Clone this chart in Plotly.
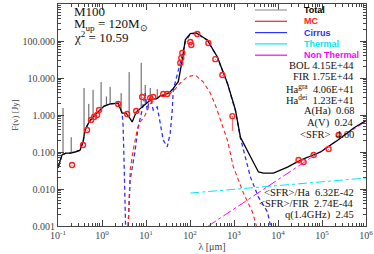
import numpy as np
import plotly.graph_objects as go

# ---- data (log10 wavelength [um], log10 flux [Jy]) ----
total_loglam = [-1.000, -0.909, -0.818, -0.727, -0.613, -0.499, -0.431, -0.385, -0.317, -0.226,
                -0.134, -0.043, 0.048, 0.185, 0.367, 0.458, 0.549, 0.640, 0.686, 0.777, 0.891,
                0.982, 1.096, 1.255, 1.323, 1.483, 1.551, 1.620, 1.733, 1.825, 1.893, 2.007,
                2.144, 2.394, 2.622, 2.850, 3.032, 3.146, 3.374, 3.556, 3.670, 3.897, 4.216,
                4.513, 4.968, 5.355, 5.720, 6.016]
total_logF = [-1.43, -1.08, -1.03, -1.03, -1.00, -0.95, -0.73, -0.41, -0.24, -0.08,
              0.03, 0.135, 0.24, 0.30, 0.32, 0.05, 0.05, -0.10, -0.19, 0.08, 0.19,
              0.30, 0.40, 0.45, 0.52, 0.58, 0.63, 0.72, 0.90, 1.49, 2.03, 2.20,
              2.22, 2.03, 1.57, 0.86, 0.14, -0.60, -1.14, -1.54, -1.57, -1.57, -1.41,
              -1.22, -1.00, -0.68, -0.35, -0.14]

spike_loglam = [-0.886, -0.70, -0.408, -0.30, -0.203, -0.021, 0.10, 0.185, 0.435, 0.617,
                0.891, 0.982, 1.096, 1.255]
spike_logF = [0.19, -0.60, 0.73, 0.30, 0.68, 0.89, 0.50, 0.76, 0.59, 1.16,
              1.41, 0.81, 0.73, 0.70]

cirrus_loglam = [-1.000, -0.909, -0.818, -0.727, -0.613, -0.499, -0.431, -0.385, -0.317, -0.226,
                 -0.134, -0.043, 0.048, 0.185, 0.367, 0.458, 0.48, 0.50, 0.52, 0.54, None,
                 0.595, 0.640, 0.754, 0.822, 0.913, 0.982, 1.027, 1.096, 1.164, 1.255, 1.323,
                 1.392, 1.483, 1.551, 1.597, 1.620, 1.779, 1.893, 2.007, 2.144, 2.394, 2.622,
                 2.850, 3.032, 3.146, 3.374, 3.556, 3.761, 3.829]
cirrus_logF = [-1.43, -1.08, -1.03, -1.03, -1.00, -0.95, -0.73, -0.41, -0.24, -0.08,
               0.03, 0.135, 0.24, 0.30, 0.32, 0.05, -0.30, -1.20, -2.20, -3.20, None,
               -3.00, -1.76, -0.95, -0.32, 0.135, 0.59, 0.135, 0.49, 0.135, 0.22, -0.22,
               -0.68, -0.86, -0.49, 0.135, 0.68, 1.41, 1.97, 2.19, 2.21, 2.02, 1.56,
               0.85, 0.12, -0.62, -1.68, -2.22, -2.62, -3.00]

mc_loglam = [0.595, 0.640, 0.708, 0.800, 0.868, 0.982, 1.096, 1.210, 1.323, 1.437, 1.551,
             1.665, 1.779, 1.939, 2.121, 2.303, 2.462, 2.576, 2.690, 2.850, 2.986, 3.214,
             3.419, 3.510]
mc_logF = [-3.00, -1.49, -0.95, -0.405, -0.19, 0.00, 0.30, 0.42, 0.50, 0.55, 0.58,
           0.70, 0.865, 1.03, 1.08, 0.89, 0.59, 0.27, -0.135, -0.68, -1.405, -2.11,
           -2.62, -3.00]

thermal_loglam = [2.007, 3.0, 4.0, 5.0, 6.039]
thermal_logF = [-2.11, -2.01, -1.91, -1.81, -1.70]

nonthermal_loglam = [2.417, 3.0, 4.0, 5.0, 6.039]
nonthermal_logF = [-3.00, -2.54, -1.75, -0.96, -0.135]

obs_loglam = [-0.681, -0.431, -0.339, -0.248, -0.180, -0.112, -0.066, 0.367, 0.572, 0.777,
              0.913, 1.096, 1.164, 1.392, 1.483, 1.779, 1.802, 1.825, 2.007, 2.030, 2.166,
              2.417, 2.576, 2.736, 2.964, 4.467, 4.581, 4.809, 5.150, 5.378]
obs_logF = [-1.351, -0.811, -0.405, -0.135, -0.054, 0.0, 0.135, 0.297, 0.027, 0.108,
            0.486, 0.459, 0.486, 0.568, 0.568, 1.405, 1.54, 1.676, 1.973, 1.89, 2.19,
            1.946, 1.51, 1.08, -0.03, -1.216, -1.27, -1.08, -0.919, -0.541]
obs_err_frac = [0.05] * 24 + [0.6] + [0.08] * 5

xtick_exp = [-1, 0, 1, 2, 3, 4, 5, 6]
ytick_vals = [0.001, 0.01, 0.1, 1, 10, 100, 1000]

legend_names = ["Total", "MC", "Cirrus", "Thermal", "Non Thermal"]
legend_colors = ["#999999", "#ff2020", "#3030ff", "#00e8ee", "#ff00ff"]
legend_text_colors = ["#000000", "#ff2020", "#3030ff", "#00e8ee", "#ff00ff"]

stats_top = ["BOL 4.15E+44", "FIR 1.75E+44", "Ha<sup>gra</sup>  4.06E+41",
             "Ha<sup>dei</sup>  1.23E+41", "A(Ha)  0.68", "A(V)  0.24", "&lt;SFR&gt;  4.60"]
stats_bottom = ["&lt;SFR&gt;/Ha  6.32E-42", "&lt;SFR&gt;/FIR  2.74E-44", "q(1.4GHz)  2.45"]
title_lines = ["M100", "M<sub>up</sub> = 120M<sub>⊙</sub>", "χ<sup>2</sup> = 10.59"]


def p10(arr):
    return [None if v is None else 10 ** v for v in arr]


fig = go.Figure()
fig.add_trace(go.Scatter(x=p10(cirrus_loglam), y=p10(cirrus_logF), mode="lines",
                         line=dict(color="#3030ff", width=1.3, dash="4px,3px"), connectgaps=False))
fig.add_trace(go.Scatter(x=p10(mc_loglam), y=p10(mc_logF), mode="lines",
                         line=dict(color="#ff2020", width=1.1, dash="4px,3px")))
fig.add_trace(go.Scatter(x=p10(thermal_loglam), y=p10(thermal_logF), mode="lines",
                         line=dict(color="#00e8ee", width=1, dash="dashdot")))
fig.add_trace(go.Scatter(x=p10(nonthermal_loglam), y=p10(nonthermal_logF), mode="lines",
                         line=dict(color="#ff00ff", width=1, dash="dashdot")))
fig.add_trace(go.Scatter(x=p10(total_loglam), y=p10(total_logF), mode="lines",
                         line=dict(color="#000000", width=1.3)))

# emission-line spikes drawn from the continuum up to their peaks
base = np.interp(spike_loglam, total_loglam, total_logF)
sx, sy = [], []
for lx, b, top in zip(spike_loglam, base, spike_logF):
    sx += [10 ** lx, 10 ** lx, None]
    sy += [10 ** b, 10 ** top, None]
fig.add_trace(go.Scatter(x=sx, y=sy, mode="lines", line=dict(color="#444444", width=0.9)))

obs_F = [10 ** v for v in obs_logF]
fig.add_trace(go.Scatter(
    x=p10(obs_loglam), y=obs_F, mode="markers",
    marker=dict(symbol="circle-open", size=5, color="#ff2020", line=dict(width=1.4)),
    error_y=dict(type="data", array=[0.0] * len(obs_F),
                 arrayminus=[f * F for f, F in zip(obs_err_frac, obs_F)],
                 color="#ff6060", thickness=1, width=0)))

font_serif = "Liberation Serif"
fig.update_layout(
    width=374, height=254, margin=dict(l=58, r=8, t=4, b=28),
    paper_bgcolor="white", plot_bgcolor="white", showlegend=False,
    font=dict(family=font_serif, size=10, color="#222"),
)
fig.update_xaxes(type="log", range=[-1, 6], showgrid=False, zeroline=False, automargin=False,
                 showline=True, linecolor="#444", linewidth=1.2, mirror="allticks",
                 ticks="inside", ticklen=6, tickcolor="#444",
                 tickvals=[10 ** e for e in xtick_exp],
                 ticktext=[f"10<sup>{e}</sup>" for e in xtick_exp],
                 tickfont=dict(size=10, color="#444"),
                 minor=dict(ticks="inside", ticklen=3, dtick="D1", tickcolor="#444"),
                 title=dict(text="λ [μm]", font=dict(size=10, color="#444"), standoff=2))
fig.update_yaxes(type="log", range=[-3, 3], showgrid=False, zeroline=False, automargin=False,
                 showline=True, linecolor="#444", linewidth=1.2, mirror="allticks",
                 ticks="inside", ticklen=6, tickcolor="#444",
                 tickvals=ytick_vals, ticktext=[f"{v:.3f}" for v in ytick_vals],
                 tickfont=dict(size=10, color="#444"),
                 minor=dict(ticks="inside", ticklen=3, dtick="D1", tickcolor="#444"),
                 title=dict(text="F(ν) [Jy]", font=dict(size=9, color="#444"), standoff=2))

ann = []
for i, t in enumerate(title_lines):
    ann.append(dict(xref="paper", yref="paper", x=(72 - 58) / 308, y=1 - (12 + 12.5 * i - 4) / 222,
                    text=t, showarrow=False, xanchor="left", yanchor="middle",
                    font=dict(family=font_serif, size=13, color="#111")))

shapes = []
for i, (n, c, tc) in enumerate(zip(legend_names, legend_colors, legend_text_colors)):
    yp = 1 - (10 + 11.3 * i - 4) / 222
    shapes.append(dict(type="line", xref="paper", yref="paper",
                       x0=(255 - 58) / 308, x1=(287 - 58) / 308, y0=yp, y1=yp,
                       line=dict(color=c, width=1.2)))
    ann.append(dict(xref="paper", yref="paper", x=(302 - 58) / 308, y=yp, text=f"<b>{n}</b>",
                    showarrow=False, xanchor="left", yanchor="middle",
                    font=dict(family="Liberation Sans", size=9, color=tc)))

for i, t in enumerate(stats_top):
    ann.append(dict(xref="paper", yref="paper", x=(356 - 58) / 308, y=1 - (65 + 11.5 * i - 4) / 222,
                    text=t, showarrow=False, xanchor="right", yanchor="middle",
                    font=dict(family=font_serif, size=10.5, color="#111")))
for i, t in enumerate(stats_bottom):
    ann.append(dict(xref="paper", yref="paper", x=(356 - 58) / 308, y=1 - (192 + 11.3 * i - 4) / 222,
                    text=t, showarrow=False, xanchor="right", yanchor="middle",
                    font=dict(family=font_serif, size=10.5, color="#111")))

fig.update_layout(annotations=ann, shapes=shapes)
fig.write_html("out.html", config={"displayModeBar": False},
               post_script="document.body.style.margin='0px';")
